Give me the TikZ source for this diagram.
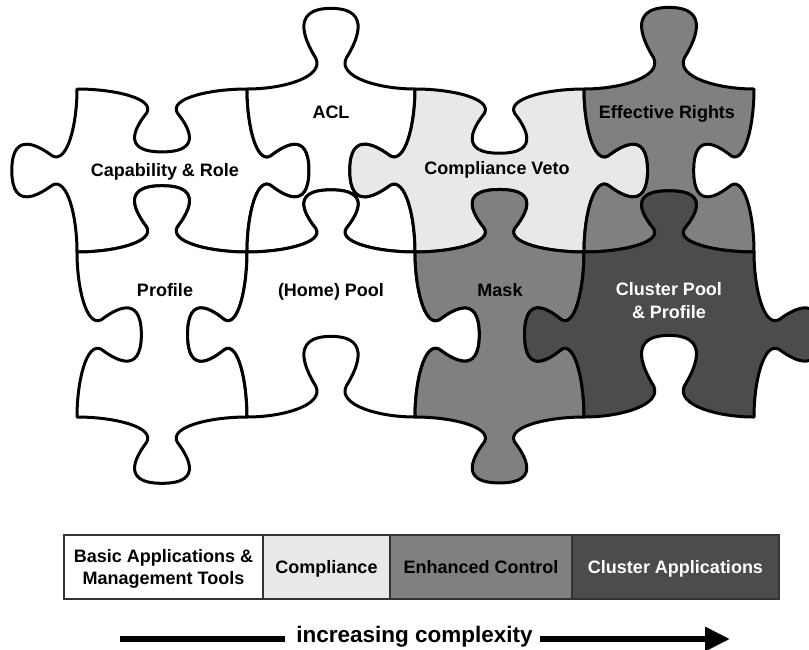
\documentclass[tikz,border=0pt]{standalone}
\usepackage{fontspec}
\setmainfont{Liberation Sans}
\usetikzlibrary{arrows.meta}

\definecolor{plight}{gray}{0.91}
\definecolor{pmid}{gray}{0.5}
\definecolor{pdark}{gray}{0.30}

% point on an edge: u along the edge, v across it (scaled by tab depth)
\newcommand\PZpt[2]{%
  \pgfmathsetmacro\PZx{\PZax+(#1)*(\PZbx-\PZax)+(#2)*(\PZs)*(\PZby-\PZay)}%
  \pgfmathsetmacro\PZy{\PZay+(#1)*(\PZby-\PZay)-(#2)*(\PZs)*(\PZbx-\PZax)}%
  \xdef\PZacc{\PZacc\space(\PZx,\PZy)}%
}
% one jigsaw edge from (#1,#2) to (#3,#4); #5 = tab depth (+ out, - in)
\newcommand\PZedge[5]{%
  \def\PZax{#1}\def\PZay{#2}\def\PZbx{#3}\def\PZby{#4}\def\PZs{#5}%
  \ifdim #5pt=0pt\relax
    \xdef\PZacc{\PZacc\space-- (#3,#4)}%
  \else
    \xdef\PZacc{\PZacc\space.. controls}\PZpt{0.22}{0}%
    \xdef\PZacc{\PZacc\space and}\PZpt{0.46}{0.15}%
    \xdef\PZacc{\PZacc\space..}\PZpt{0.41}{0.38}%
    \xdef\PZacc{\PZacc\space.. controls}\PZpt{0.36}{0.55}%
    \xdef\PZacc{\PZacc\space and}\PZpt{0.24}{1}%
    \xdef\PZacc{\PZacc\space..}\PZpt{0.5}{1}%
    \xdef\PZacc{\PZacc\space.. controls}\PZpt{0.76}{1}%
    \xdef\PZacc{\PZacc\space and}\PZpt{0.64}{0.55}%
    \xdef\PZacc{\PZacc\space..}\PZpt{0.59}{0.38}%
    \xdef\PZacc{\PZacc\space.. controls}\PZpt{0.54}{0.15}%
    \xdef\PZacc{\PZacc\space and}\PZpt{0.78}{0}%
    \xdef\PZacc{\PZacc\space..}\PZpt{1}{0}%
  \fi
}
% piece: x0 y0 x1 y1, depths top right bottom left, fill colour
\newcommand\PZpiece[9]{%
  \xdef\PZacc{(#1,#2)}%
  \PZedge{#1}{#2}{#3}{#2}{#5}%
  \PZedge{#3}{#2}{#3}{#4}{#6}%
  \PZedge{#3}{#4}{#1}{#4}{#7}%
  \PZedge{#1}{#4}{#1}{#2}{#8}%
  \draw[piece, fill=#9] \PZacc -- cycle;
}

\tikzset{
  piece/.style={draw=black, line width=3pt, line join=round},
  lbl/.style={font=\fontsize{18}{23}\selectfont\bfseries, inner sep=0pt, anchor=base},
  lbltwo/.style={font=\fontsize{18}{23}\selectfont\bfseries, inner sep=0pt, align=center, anchor=center},
  cell/.style={draw=black!80, line width=1.5pt, minimum height=64pt, inner sep=0pt,
    text depth=0pt, align=center, font=\fontsize{18}{22.3}\selectfont\bfseries},
  bigarrow/.style={line width=6pt},
}

\begin{document}
\begin{tikzpicture}[x=1pt, y=-1pt]
\useasboundingbox (0,0) rectangle (809,649);
\clip (0,0) rectangle (809,649);

% puzzle pieces
\PZpiece{77}{89}{247}{252}{-0.37}{0.38}{-0.39}{0.40}{white}
\PZpiece{247}{89}{415}{252}{0.48}{-0.40}{-0.37}{-0.38}{white}
\PZpiece{415}{89}{584}{252}{-0.38}{0.39}{-0.37}{0.40}{plight}
\PZpiece{584}{89}{754}{252}{0.48}{-0.37}{-0.36}{-0.39}{pmid}
\PZpiece{77}{252}{247}{417}{0.39}{-0.36}{0.39}{-0.39}{white}
\PZpiece{247}{252}{415}{417}{0.37}{0.39}{-0.48}{0.36}{white}
\PZpiece{415}{252}{584}{417}{0.37}{-0.36}{0.39}{-0.39}{pmid}
\PZpiece{584}{252}{754}{417}{0.36}{0.40}{-0.48}{0.36}{pdark}

% piece labels
\node[lbl] (tcap) at (165,176) {Capability \& Role};
\node[lbl] (tacl) at (331,118) {ACL};
\node[lbl] (tcv) at (497,174) {Compliance Veto};
\node[lbl] (ter) at (667,118) {Effective Rights};
\node[lbl] (tprof) at (165,296) {Profile};
\node[lbl] (thome) at (331,296) {(Home) Pool};
\node[lbl] (tmask) at (500,296) {Mask};
\node[lbltwo, text=white] (tclu) at (669,301) {Cluster Pool\\\& Profile};

% legend bar
\node[cell, fill=white, minimum width=199pt] (b1) at (163.5,567) {Basic Applications \&\\Management Tools};
\node[cell, fill=plight, minimum width=127pt] (b2) at (326.5,567) {Compliance};
\node[cell, fill=pmid, minimum width=182pt] (b3) at (481,567) {Enhanced Control};
\node[cell, fill=pdark, text=white, minimum width=207pt] (b4) at (675.5,567) {Cluster Applications};

% complexity arrow
\node[font=\fontsize{22.5}{27}\selectfont\bfseries, inner sep=0pt, anchor=base] (inc) at (414.5,642) {increasing complexity};
\coordinate (al) at (120,639);
\coordinate (am) at (285,639);
\coordinate (an) at (540,639);
\coordinate (ar) at (730,639);
\draw[bigarrow] (al) -- (am);
\draw[bigarrow, -{Triangle[length=25pt,width=23pt]}] (an) -- (ar);
\end{tikzpicture}
\end{document}
